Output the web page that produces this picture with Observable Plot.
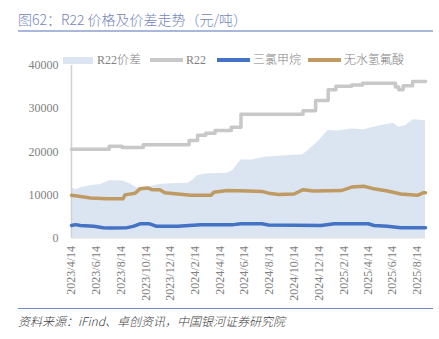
<!DOCTYPE html>
<html><head><meta charset="utf-8">
<script src="https://cdn.jsdelivr.net/npm/d3@7"></script>
<script src="https://cdn.jsdelivr.net/npm/@observablehq/plot@0.6"></script>
<style>
body{margin:0;background:#fff;}
#wrap{position:relative;width:439px;height:339px;overflow:hidden;font-family:"Liberation Serif","Noto Sans CJK SC",serif;}
#title{position:absolute;left:18px;top:9px;font-family:"Noto Sans CJK SC",sans-serif;font-size:14px;font-weight:300;color:#7386ba;white-space:nowrap;line-height:20px;}
#rule1{position:absolute;left:18px;top:30px;width:415px;height:2px;background:#a9b7db;}
#chart{position:absolute;left:0;top:40px;}
.sw{position:absolute;}
.lt{position:absolute;top:52px;font-size:12px;line-height:16px;color:#808080;white-space:nowrap;font-family:"Liberation Serif","Noto Sans CJK SC",serif;font-weight:300;}
#rule2{position:absolute;left:18px;top:308px;width:415px;height:1px;background:#6f8cc6;}
#caption{position:absolute;left:18px;top:313px;font-size:12px;line-height:16px;font-style:italic;color:#404040;white-space:nowrap;font-family:"Noto Sans CJK SC",sans-serif;font-weight:300;}
</style></head>
<body>
<div id="wrap">
  <div id="title">图62：R22 价格及价差走势（元/吨）</div>
  <div id="rule1"></div>
  <div id="chart"></div>
  <div id="legend"></div>
  <div id="rule2"></div>
  <div id="caption">资料来源：iFind、卓创资讯，中国银河证券研究院</div>
</div>
<script>
// ---- data ----
const seriesNames = ["R22价差", "R22", "三氯甲烷", "无水氢氟酸"];
const seriesColors = ["#dbe5f1", "#c8c8c8", "#4472c4", "#bf9a62"];

const xTickLabels = ["2023/4/14","2023/6/14","2023/8/14","2023/10/14","2023/12/14","2024/2/14","2024/4/14","2024/6/14","2024/8/14","2024/10/14","2024/12/14","2025/2/14","2025/4/14","2025/6/14","2025/8/14"];
const yTicks = [0, 10000, 20000, 30000, 40000];

const spreadDates = ["2023-04-14","2023-04-24","2023-05-06","2023-05-31","2023-06-25","2023-07-16","2023-08-19","2023-09-06","2023-09-23","2023-10-17","2023-11-18","2023-12-14","2024-01-26","2024-02-09","2024-02-19","2024-03-15","2024-05-02","2024-05-15","2024-06-05","2024-07-02","2024-08-03","2024-09-21","2024-11-05","2024-12-11","2025-01-06","2025-01-31","2025-03-05","2025-04-04","2025-05-08","2025-06-16","2025-06-29","2025-07-16","2025-08-04","2025-09-03"];
const spreadValues = [11700,11200,11600,12200,12400,13300,13200,12600,11600,11800,12400,12600,12700,13500,14500,14900,15000,15600,18100,18100,18700,19100,19300,22200,24900,24800,25300,25100,25900,26600,25700,26100,27400,27200];

const r22Dates = ["2023-04-14","2023-07-16","2023-08-17","2023-10-08","2024-01-29","2024-02-19","2024-03-10","2024-04-02","2024-05-12","2024-06-05","2024-11-05","2024-12-06","2025-01-06","2025-01-25","2025-03-05","2025-04-01","2025-06-21","2025-06-29","2025-07-10","2025-08-02","2025-09-03"];
const r22Values = [20600,21300,21000,21600,22600,23800,24300,24900,25700,28700,29500,31900,34400,35200,35500,35900,35000,34400,35300,36300,36300];

const chcl3Dates = ["2023-04-14","2023-04-24","2023-05-06","2023-06-08","2023-07-01","2023-07-19","2023-08-29","2023-09-13","2023-09-30","2023-10-24","2023-11-10","2024-01-01","2024-02-27","2024-05-17","2024-06-05","2024-07-26","2024-08-12","2024-12-19","2025-01-21","2025-04-15","2025-04-29","2025-06-01","2025-07-04","2025-09-03"];
const chcl3Values = [2900,3100,2900,2700,2400,2300,2400,2700,3300,3300,2700,2700,3100,3100,3300,3300,3000,2900,3300,3300,2900,2700,2400,2400];

const hfDates = ["2023-04-14","2023-05-06","2023-05-31","2023-07-11","2023-08-19","2023-08-24","2023-09-18","2023-09-30","2023-10-19","2023-10-29","2023-11-18","2023-11-30","2024-01-01","2024-02-02","2024-03-23","2024-03-30","2024-05-02","2024-06-24","2024-07-26","2024-08-12","2024-09-06","2024-10-14","2024-11-05","2024-12-01","2025-02-07","2025-03-05","2025-04-04","2025-04-29","2025-06-01","2025-07-04","2025-08-14","2025-08-29","2025-09-03"];
const hfValues = [9900,9600,9300,9100,9100,10000,10400,11400,11600,11200,11200,10500,10200,9900,9900,10600,11000,10900,10800,10400,10100,10200,11200,10900,11000,11800,12000,11400,10900,10200,9900,10500,10500];

// ---- build tables ----
const toTable = (ds, vs) => ds.map((d, i) => ({date: new Date(d + "T00:00:00Z"), value: vs[i]}));
const spread = toTable(spreadDates, spreadValues);
const r22 = toTable(r22Dates, r22Values);
const chcl3 = toTable(chcl3Dates, chcl3Values);
const hf = toTable(hfDates, hfValues);
const xTicks = xTickLabels.map(s => { const [y,m,d] = s.split("/").map(Number); return new Date(Date.UTC(y, m-1, d)); });
const fmtTick = d => `${d.getUTCFullYear()}/${d.getUTCMonth()+1}/${d.getUTCDate()}`;
const x0 = new Date("2023-04-14T00:00:00Z"), x1 = new Date("2025-09-03T00:00:00Z");

const chart = Plot.plot({
  width: 439, height: 270,
  marginTop: 25, marginBottom: 72.5, marginLeft: 71, marginRight: 14,
  x: {type: "utc", domain: [x0, x1], label: null},
  y: {domain: [0, 40000], label: null},
  style: {fontFamily: '"Liberation Serif", serif', fontSize: "12px", color: "#808080", background: "transparent", overflow: "visible"},
  marks: [
    Plot.areaY(spread, {x: "date", y: "value", fill: seriesColors[0]}),
    Plot.ruleY([0], {stroke: "#d9d9d9", strokeWidth: 1}),
    Plot.ruleX([x0], {y1: 0, y2: 40000, stroke: "#d0d0d0", strokeWidth: 1.5}),
    Plot.line(r22, {x: "date", y: "value", stroke: seriesColors[1], strokeWidth: 3.5, curve: "step-after"}),
    Plot.line(chcl3, {x: "date", y: "value", stroke: seriesColors[2], strokeWidth: 3.5}),
    Plot.line(hf, {x: "date", y: "value", stroke: seriesColors[3], strokeWidth: 3.5}),
    Plot.axisY({ticks: yTicks, tickSize: 0, tickPadding: 13, tickFormat: d3.format("d"), fill: "#808080", label: null}),
    Plot.axisX({ticks: xTicks, tickFormat: fmtTick, tickRotate: -90, tickSize: 0, tickPadding: 8, fill: "#808080", label: null})
  ]
});
document.getElementById("chart").appendChild(chart);

// ---- legend ----
const legend = document.getElementById("legend");
const legendItems = [
  {sx: 63, sw: 30, sy: 56.5, sh: 7, tx: 97},
  {sx: 150, sw: 33, sy: 58.3, sh: 3.5, tx: 186},
  {sx: 217, sw: 33, sy: 58.3, sh: 3.5, tx: 253},
  {sx: 308, sw: 33, sy: 58.3, sh: 3.5, tx: 344}
];
legendItems.forEach((it, i) => {
  const s = document.createElement("div");
  s.className = "sw";
  Object.assign(s.style, {left: it.sx + "px", top: it.sy + "px", width: it.sw + "px", height: it.sh + "px", background: seriesColors[i]});
  legend.appendChild(s);
  const t = document.createElement("div");
  t.className = "lt";
  t.style.left = it.tx + "px";
  t.textContent = seriesNames[i];
  legend.appendChild(t);
});
</script>
</body></html>
